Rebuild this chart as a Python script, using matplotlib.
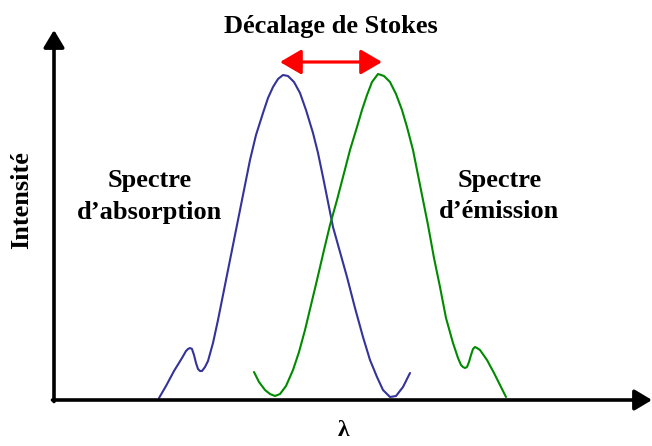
#!/usr/bin/env python3
"""Schematic of absorption / emission spectra showing the Stokes shift."""
import matplotlib
matplotlib.use("Agg")
import matplotlib.pyplot as plt

# absorption spectrum (wavelength, intensity)
abs_lam = [105, 112, 120, 128, 132, 134, 136, 138, 140, 142, 144, 146, 148, 151, 154,
           159, 164, 169, 174, 179, 184, 190, 196, 202, 209, 214, 219, 224, 229, 234,
           240, 246, 252, 259, 264, 269, 274, 279, 286, 293, 301, 309, 316, 323, 329,
           336, 342, 349, 356]
abs_int = [2, 14, 29, 42, 49, 51, 52, 51, 45, 37, 31, 29, 29, 33, 39,
           57, 80, 105, 130, 155, 180, 210, 240, 265, 287, 302, 313, 321, 325, 324,
           318, 307, 290, 267, 247, 223, 198, 173, 148, 123, 92, 63, 40, 23, 10,
           3, 4, 13, 27]

# emission spectrum
em_lam = [200, 205, 211, 216, 221, 226, 232, 239, 245, 251, 257, 263, 270, 276, 283,
          289, 296, 303, 308, 313, 318, 324, 330, 336, 342, 348, 353, 359, 366, 374,
          380, 386, 392, 399, 404, 407, 409, 411, 413, 415, 417, 419, 421, 423, 426,
          433, 440, 446, 452]
em_int = [28, 18, 10, 6, 4, 6, 14, 30, 48, 70, 95, 120, 150, 175, 200,
          223, 250, 273, 290, 305, 318, 326, 324, 318, 306, 290, 273, 250, 215, 175,
          142, 113, 82, 57, 42, 35, 33, 32, 33, 38, 45, 51, 53, 52, 50,
          40, 27, 15, 3]

# Stokes shift arrow ends
shift_lam = [226, 328]
shift_int = 338

FONT = "Liberation Serif"

fig = plt.figure(figsize=(6.52, 4.46), dpi=100)
ax = fig.add_axes([0, 0, 1, 1])
ax.set_xlim(-54, 598)
ax.set_ylim(-46, 400)
ax.axis("off")

# axes with arrow heads
axis_style = dict(arrowstyle="-|>,head_length=0.75,head_width=0.45", lw=2.6,
                  color="black", mutation_scale=14, shrinkA=0, shrinkB=0)
ax.annotate("", xy=(598, 0), xytext=(-1.5, 0), arrowprops=axis_style)
ax.annotate("", xy=(0, 370), xytext=(0, -1.5), arrowprops=axis_style)

ax.plot(abs_lam, abs_int, color="#33339a", lw=1.5, solid_capstyle="round")
ax.plot(em_lam, em_int, color="#008a00", lw=1.5, solid_capstyle="round")

ax.annotate("", xy=(shift_lam[0], shift_int), xytext=(shift_lam[1], shift_int),
            arrowprops=dict(arrowstyle="<|-|>,head_length=0.65,head_width=0.38",
                            lw=2.3, color="red", mutation_scale=20,
                            shrinkA=0, shrinkB=0))

txt = dict(family=FONT, fontweight="bold", fontsize=19, ha="center", va="center")
ax.text(277, 373, "Décalage de Stokes", **txt)
ax.text(96, 220, "Spectre", **txt)
ax.text(96, 188, "d\u2019absorption", **txt)
ax.text(446, 220, "Spectre", **txt)
ax.text(445, 188, "d\u2019émission", **txt)
ax.text(-32, 200, "Intensité", rotation=90, **txt)
ax.text(290, -31, "λ", family=FONT, fontweight="bold", fontsize=17,
        ha="center", va="center")

fig.savefig("out.png", dpi=100)
